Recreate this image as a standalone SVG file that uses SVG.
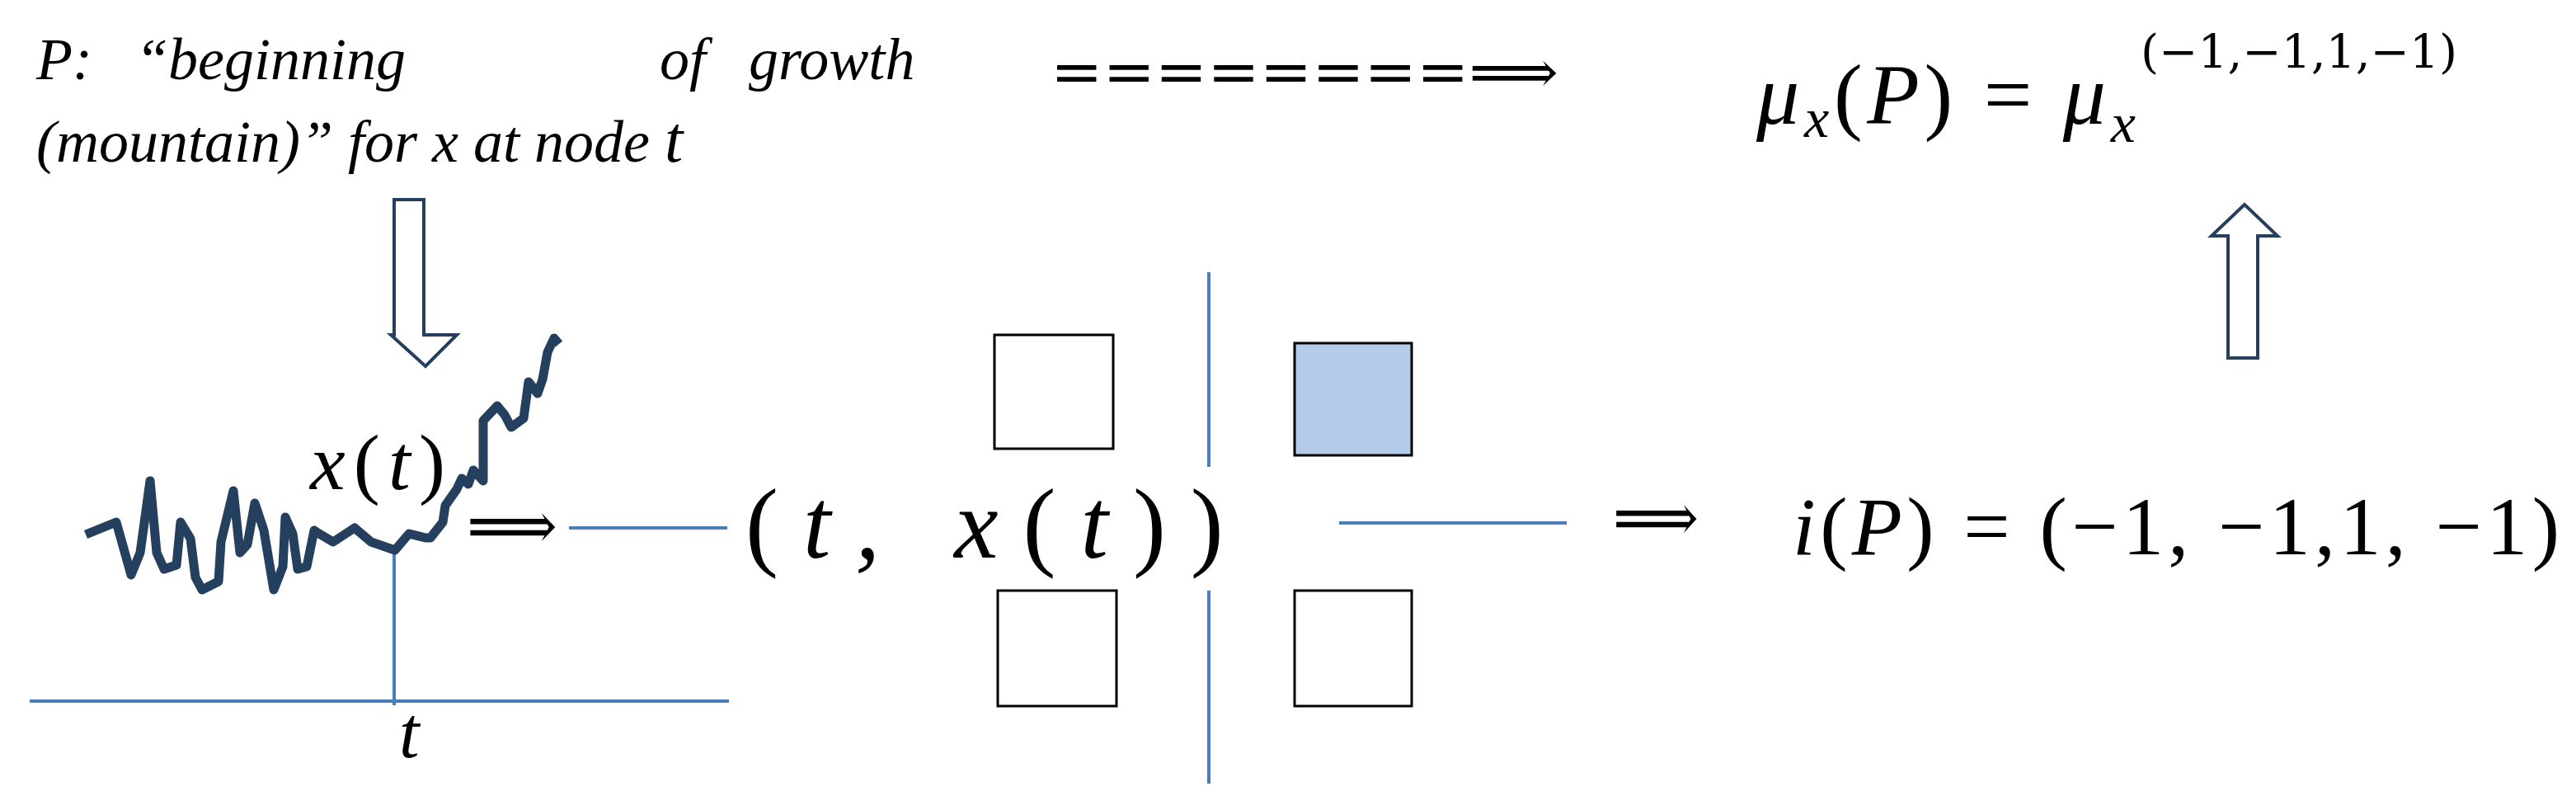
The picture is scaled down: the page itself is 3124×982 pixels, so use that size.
<svg xmlns="http://www.w3.org/2000/svg" width="3124" height="982" viewBox="0 0 3124 982">
<style>
.t{font-family:"Liberation Serif",serif;font-style:italic;fill:#000}
.u{font-style:normal}
.m{font-family:"DejaVu Serif","Liberation Serif",serif;fill:#000}
.ax{stroke:#4a7ebb;stroke-width:4;fill:none}
.hol{fill:#fff;stroke:#253f5f;stroke-width:4}
.sq{fill:#fff;stroke:#000;stroke-width:3}
</style>
<rect width="3124" height="982" fill="#fff"/>
<g id="caption">
<text class="t" font-size="72" y="96"><tspan x="44">P:</tspan><tspan x="164">“beginning</tspan><tspan x="800">of</tspan><tspan x="908">growth</tspan></text>
<text class="t" x="44" y="196" font-size="72">(mountain)” for x at node <tspan font-size="80">t</tspan></text>
</g>
<g id="down-arrow"><polygon class="hol" points="478,242 514,242 514,406 554,406 516,444 474,406 478,406"/></g>
<g id="plot">
<line class="ax" x1="36" y1="850" x2="884" y2="850"/>
<line class="ax" x1="478" y1="667" x2="478" y2="855"/>
<polyline fill="none" stroke="#253f5f" stroke-width="11" stroke-linejoin="round" points="104,648 141,633 159,697 170,670 182,583 190,670 199,690 214,685 219,633 231,653 237,700 245,715 265,705 268,657 283,595 291,670 300,660 309,610 320,643 332,715 343,687 346,627 355,647 361,690 372,687 381,643 387,647 404,657 430,640 450,657 479,667 496,647 516,652 522,652 537,633 540,613 554,593 560,580 568,587 574,570 586,583 586,510 603,492 612,503 620,518 635,507 641,463 652,477 658,460 664,427 672,410 678,417"/>
<text class="t" x="376" y="593" font-size="96" textLength="164" lengthAdjust="spacing">x<tspan class="u">(</tspan>t<tspan class="u">)</tspan></text>
<text class="t" x="484" y="918" font-size="88">t</text>
</g>
<g id="arrow1"><text class="m" x="566" y="665" font-size="80" textLength="110" lengthAdjust="spacingAndGlyphs">⟹</text></g>
<g id="quadrants">
<line class="ax" x1="1466" y1="330" x2="1466" y2="566"/>
<line class="ax" x1="1466" y1="716" x2="1466" y2="950"/>
<line class="ax" x1="690" y1="640" x2="882" y2="640"/>
<line class="ax" x1="1624" y1="634" x2="1900" y2="634"/>
<rect class="sq" x="1206" y="406" width="144" height="138"/>
<rect class="sq" x="1570" y="416" width="142" height="136" style="fill:#b4cce9"/>
<rect class="sq" x="1210" y="716" width="144" height="140"/>
<rect class="sq" x="1570" y="716" width="142" height="140"/>
<text class="t" x="904" y="676" font-size="120" letter-spacing="30"><tspan class="u">(</tspan>t, x<tspan class="u">(</tspan>t<tspan class="u">))</tspan></text>
</g>
<g id="arrow2"><text class="m" x="1956" y="655" font-size="80" textLength="104" lengthAdjust="spacingAndGlyphs">⟹</text></g>
<g id="iP"><text class="t" x="2174" y="672" font-size="100" textLength="930" lengthAdjust="spacing">i<tspan class="u">(</tspan>P<tspan class="u">) = (−1, −1,1, −1)</tspan></text></g>
<g id="top-arrow"><text class="m" x="1274" y="112" font-size="72" textLength="616" lengthAdjust="spacingAndGlyphs">========⟹</text></g>
<g id="mu">
<text class="t" x="2130" y="150" font-size="104" textLength="460" lengthAdjust="spacing">μ<tspan font-size="68" dy="16">x</tspan><tspan class="u" dy="-16">(</tspan>P<tspan class="u">) = </tspan>μ<tspan font-size="68" dy="22">x</tspan></text>
<text class="m" x="2596" y="82" font-size="56" textLength="384" lengthAdjust="spacingAndGlyphs">(−1,−1,1,−1)</text>
</g>
<g id="up-arrow"><polygon class="hol" points="2702,434 2738,434 2738,286 2762,286 2722,248 2682,286 2702,286"/></g>
</svg>
